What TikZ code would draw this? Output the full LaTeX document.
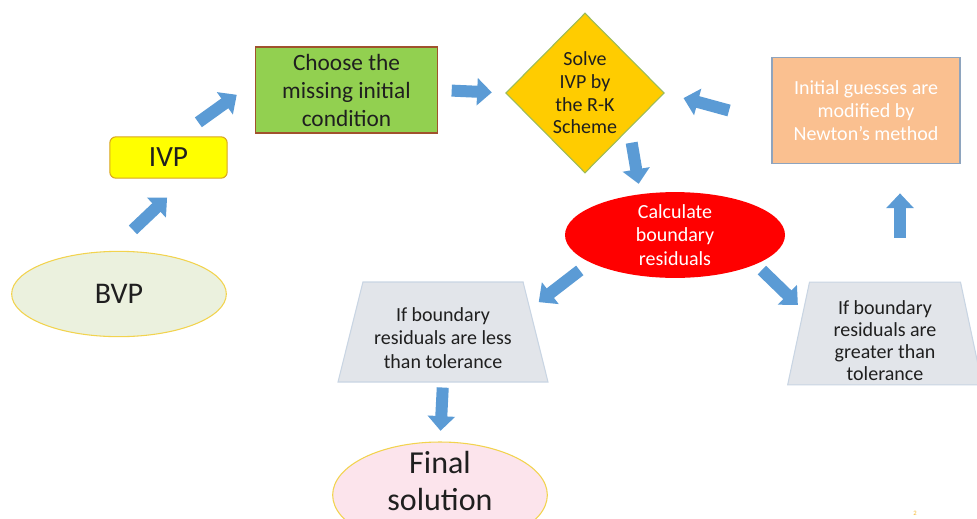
\documentclass[tikz,border=0pt]{standalone}
\usepackage{fontspec}
\setmainfont{Carlito}
\usetikzlibrary{shapes.geometric,arrows.meta}
\definecolor{bvpc}{HTML}{EBF1DE}
\definecolor{rimc}{HTML}{F2D34E}
\definecolor{ivpc}{HTML}{FFFF00}
\definecolor{ivpedge}{HTML}{D9A520}
\definecolor{choosec}{HTML}{92D050}
\definecolor{chooseedge}{HTML}{A0522D}
\definecolor{solvec}{HTML}{FFCC00}
\definecolor{solveedge}{HTML}{9BBB59}
\definecolor{newtonc}{HTML}{FAC090}
\definecolor{newtonedge}{HTML}{8EA4BE}
\definecolor{calcc}{HTML}{FF0000}
\definecolor{condc}{HTML}{E2E5EA}
\definecolor{condedge}{HTML}{C9D5E3}
\definecolor{finalc}{HTML}{FCE4EC}
\definecolor{arrowc}{HTML}{5B9BD5}
\definecolor{inkc}{HTML}{1F1F1F}

\begin{document}
\begin{tikzpicture}[x=0.75pt, y=-0.75pt, text=inkc, font=\fontsize{15}{16.5}\selectfont,
  blockarr/.style={arrowc, line width=9pt, -{Triangle[width=20pt,length=11pt]}},
  shapebox/.style={align=center, inner sep=0pt, line width=0.8pt},
  condbox/.style={shapebox, trapezium, trapezium stretches body, fill=condc, draw=condedge}]
  \useasboundingbox (0,0) rectangle (977,518);
  % left column
  \node[shapebox, ellipse, draw=rimc, fill=bvpc, minimum width=161pt, minimum height=64pt,
        font=\fontsize{22.5}{27}\selectfont] (bvp) at (119,294) {BVP};
  \node[shapebox, rectangle, rounded corners=4.5pt, draw=ivpedge, fill=ivpc, minimum width=88pt, minimum height=31pt,
        font=\fontsize{22}{26}\selectfont] (ivp) at (168.5,157.5) {IVP};
  \node[shapebox, rectangle, draw=chooseedge, fill=choosec, minimum width=137pt, minimum height=64.5pt,
        font=\fontsize{17.5}{21}\selectfont] (choose) at (346.5,90) {Choose the\\missing initial\\condition};
  % solver loop
  \node[shapebox, diamond, draw=solveedge, fill=solvec, minimum width=119pt, minimum height=120pt,
        font=\fontsize{15}{17}\selectfont] (solve) at (585,93) {Solve\\IVP by\\the R-K\\Scheme};
  \node[shapebox, rectangle, draw=newtonedge, fill=newtonc, minimum width=141pt, minimum height=80pt, text=white,
        font=\fontsize{15}{17}\selectfont] (newton) at (866,110.5) {Initial guesses are\\modified by\\Newton’s method};
  \node[shapebox, ellipse, fill=calcc, minimum width=165pt, minimum height=63pt, text=white,
        font=\fontsize{15}{17.5}\selectfont] (calc) at (675,235) {Calculate\\boundary\\residuals};
  % the two outcomes
  \node[condbox, trapezium left angle=76, trapezium right angle=76, minimum width=157.5pt] (less) at (443,332) {\rule{0pt}{75pt}};
  \node[align=center, font=\fontsize{15}{17.5}\selectfont] (lesstxt) at (443,338)
        {If boundary\\residuals are less\\than tolerance};
  \node[condbox, trapezium left angle=78, trapezium right angle=78, minimum width=146pt] (greater) at (885,333.5) {\rule{0pt}{77pt}};
  \node[align=center] (greatertxt) at (885,341) {If boundary\\residuals are\\greater than\\tolerance};
  \node[shapebox, ellipse, draw=rimc, fill=finalc, minimum width=161pt, minimum height=79.5pt] (final) at (440,495) {};
  \node[align=center, font=\fontsize{24}{28}\selectfont] (finaltxt) at (440,481) {Final\\solution};
  \node[font=\fontsize{5}{6}\selectfont, text=rimc!70!orange] (pageno) at (915,513) {2};
  % arrows
  \draw[blockarr, shorten <=23pt, shorten >=20.5pt] (bvp.101) -- (ivp.311);
  \draw[blockarr, shorten <=18pt, shorten >=16.5pt] (ivp.64) -- (choose.175);
  \draw[blockarr, shorten <=10pt, shorten >=10pt] (choose.east) -- (solve.west);
  \draw[blockarr, shorten <=33pt, shorten >=14.5pt] (newton.187) -- (solve.east);
  \draw[blockarr, shorten <=10.5pt, shorten >=7.5pt] (solve.321) -- (calc.130);
  \draw[blockarr, shorten <=9.5pt, shorten >=8pt] (calc.198) -- (less.15);
  \draw[blockarr, shorten <=6pt, shorten >=5.4pt] (calc.340) -- (greater.164);
  \draw[blockarr, shorten <=3.75pt, shorten >=8pt] (less.south) -- (final.north);
  \draw[blockarr, shorten <=33pt, shorten >=21.75pt] ([xshift=11.25pt]greater.north) -- ([xshift=25.5pt]newton.south);
\end{tikzpicture}
\end{document}
